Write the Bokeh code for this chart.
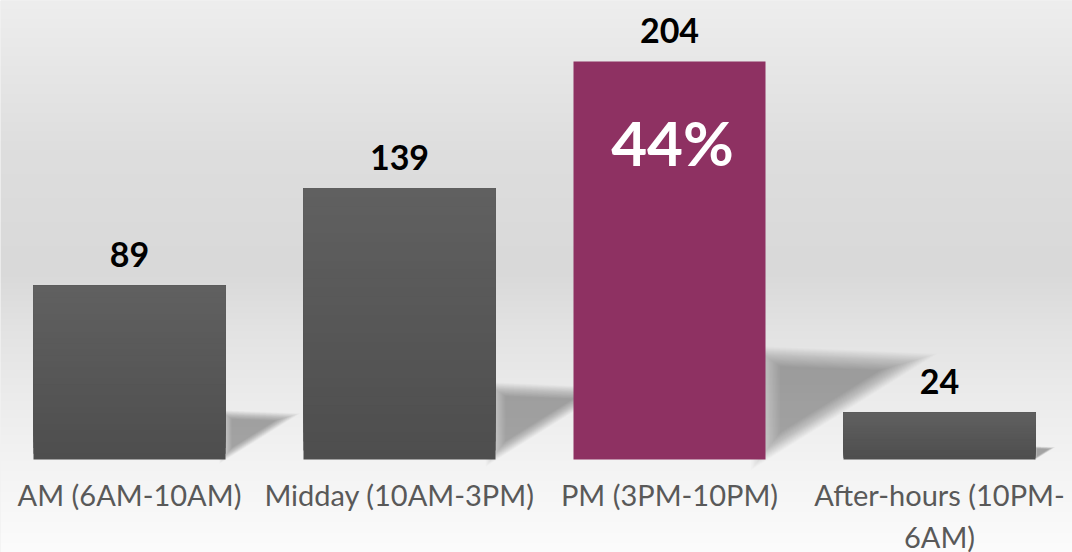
import numpy as np
from bokeh.plotting import figure
from bokeh.models import Range1d, ColumnDataSource
from bokeh.core.properties import value
from bokeh.embed import file_html
from bokeh.resources import INLINE

# ---- data ----
categories = ["AM (6AM-10AM)", "Midday (10AM-3PM)", "PM (3PM-10PM)", "After-hours (10PM-\n6AM)"]
counts = [89, 139, 204, 24]
highlight_label = "44%"
highlight_index = 2

# ---- layout constants (pixels) ----
W, H = 1072, 552
PX_X = 270.0      # pixels per category
PX_Y = 1.951      # pixels per unit
x0 = -129.0 / PX_X
x1 = x0 + W / PX_X
y1 = 459.0 / PX_Y
y0 = y1 - H / PX_Y

p = figure(width=W, height=H, output_backend="svg", toolbar_location=None,
           x_range=Range1d(x0, x1), y_range=Range1d(y0, y1),
           min_border=0, outline_line_color=None)
p.axis.visible = False
p.grid.visible = False
p.background_fill_color = "#e6e6e6"
p.border_fill_color = "#e6e6e6"

# ---- background gradient ----
ref_y = np.array([0, 150, 270, 330, 400, 460, 552], dtype=float)
ref_g = np.array([238, 222, 217, 227, 236, 243, 252], dtype=float)
rows = np.arange(H)
ry = H - (rows + 0.5)
g = np.interp(ry, ref_y, ref_g).astype(np.uint32)
img = np.empty((H, 2), dtype=np.uint32)
col = (255 << 24) | (g << 16) | (g << 8) | g
img[:, 0] = col
img[:, 1] = col
p.image_rgba(image=[img], x=x0, y=y0, dw=x1 - x0, dh=y1 - y0)

xs = list(range(len(categories)))
bw = 192.0 / PX_X

# ---- soft shadows ----
NL = 22
for i, v in enumerate(counts):
    hpx = v * PX_Y
    R = xs[i] + bw / 2
    pts_x = np.array([R, R, R + 0.36 * hpx / PX_X])
    pts_y = np.array([0.02 * v, 0.26 * v, 0.245 * v])
    cx, cy = pts_x.mean(), pts_y.mean()
    for k in range(NL):
        s = 0.7 + 0.6 * k / (NL - 1)
        p.patch(cx + (pts_x - cx) * s, cy + (pts_y - cy) * s,
                fill_color="black", fill_alpha=0.016, line_color=None)

# ---- bars ----
N = 30
top_c = np.array([0x60, 0x60, 0x60], dtype=float)
bot_c = np.array([0x4e, 0x4e, 0x4e], dtype=float)
for i, v in enumerate(counts):
    if i == highlight_index:
        p.vbar(x=xs[i], width=bw, bottom=0, top=v, fill_color="#8e3162",
               line_color=None)
        continue
    bx, bb, bt, bc = [], [], [], []
    for j in range(N):
        t = j / (N - 1)
        c = bot_c + (top_c - bot_c) * t
        bx.append(xs[i]); bb.append(v * j / N); bt.append(v)
        bc.append("#%02x%02x%02x" % tuple(int(round(q)) for q in c))
    src = ColumnDataSource(dict(x=bx, bottom=bb, top=bt, color=bc))
    p.vbar(x="x", width=bw, bottom="bottom", top="top", fill_color="color",
           line_color=None, source=src)

# ---- value labels ----
p.text(x=xs, y=[v + 31 / PX_Y for v in counts], text=[str(v) for v in counts],
       text_font=value("Lato"), text_font_style="bold", text_font_size="34px",
       text_color="black", text_align="center", text_baseline="alphabetic")

# ---- highlight percentage ----
p.text(x=[xs[highlight_index] + 3 / PX_X], y=[counts[highlight_index] - 81 / PX_Y],
       text=[highlight_label], text_font=value("Lato"), text_font_style="bold",
       text_font_size="62px", text_color="white", text_align="center",
       text_baseline="alphabetic")

# ---- category labels ----
p.text(x=xs, y=[-17 / PX_Y] * len(xs), text=categories,
       text_font=value("Lato"), text_font_size="29px", text_color="#595959",
       text_align="center", text_baseline="top", text_line_height=1.2)

open("out.html", "w").write(file_html(p, INLINE))
